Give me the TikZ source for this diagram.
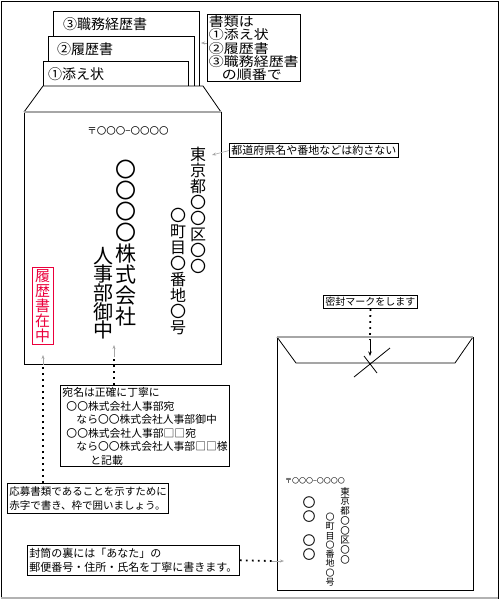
\documentclass[tikz,border=0pt]{standalone}
\usepackage{fontspec}
\setmainfont{Noto Sans CJK JP}
\newfontfamily\widejp[FakeStretch=1.15]{Noto Sans CJK JP}
\usetikzlibrary{arrows.meta}
\definecolor{inkred}{RGB}{235,0,60}
\newcommand{\maru}{〇}

\begin{document}
\begin{tikzpicture}[x=1pt, y=-1pt,
    note/.style={draw, line width=0.9pt, inner sep=2pt, anchor=north west, align=left, font=\fontsize{10.8}{13.5}\selectfont},
    tab/.style={draw, fill=white, line width=0.8pt},
    tabtext/.style={anchor=west, inner sep=0pt, font=\fontsize{14}{14}\selectfont},
    tate/.style={align=center, inner sep=0pt, anchor=north},
    guide/.style={gray!70, line width=0.6pt, -{Stealth[length=4pt, width=3pt]}},
    dots/.style={line width=1.8pt, dash pattern=on 1.8pt off 4.2pt},
    fold/.style={gray!70, line width=1.6pt}]
  \useasboundingbox (0,0) rectangle (500,600);
  \draw[line width=0.8pt] (1,1) rectangle (498,598);
  \draw[gray!60, line width=1.5pt] (1,598) -- (498,598);

  % papers in the envelope
  \draw[tab] (53,11) rectangle (199,86);
  \node[tabtext] (doc3) at (63,24) {③職務経歴書};
  \draw[tab] (48,36) rectangle (194,86);
  \node[tabtext] (doc2) at (57,49) {②履歴書};
  \draw[tab] (43,61) rectangle (188,86);
  \node[tabtext] (doc1) at (48,74) {①添え状};

  % front of the envelope
  \draw[fill=white, line width=0.8pt] (24,112) -- (43,86) -- (203,86) -- (221,112);
  \draw[line width=0.8pt] (24,112) rectangle (221,364);
  \draw[fold] (24,112) -- (221,112);
  \node[font=\fontsize{9.5}{10}\selectfont] (zip) at (128,131) {〒\maru\maru\maru−\maru\maru\maru\maru};
  \node[tate, font=\fontsize{16}{16}\selectfont] (addr1) at (198,147) {東\\京\\都\\\maru\\\maru\\区\\\maru\\\maru};
  \node[tate, font=\fontsize{16}{16}\selectfont] (addr2) at (178,208) {\maru\\町\\目\\\maru\\番\\地\\\maru\\号};
  \node[tate, font=\fontsize{21}{21}\selectfont] (corp) at (126,160) {\maru\\\maru\\\maru\\\maru\\株\\式\\会\\社};
  \node[tate, font=\fontsize{20}{18.6}\selectfont] (dept) at (103,247) {人\\事\\部\\御\\中};
  \node[tate, draw=inkred, text=inkred, inner xsep=3pt, inner ysep=2pt, font=\fontsize{15}{15}\selectfont] (inside) at (42.5,267) {履\\歴\\書\\在\\中};

  % back of the envelope
  \draw[line width=0.8pt] (277,337) rectangle (473,590);
  \draw[line width=0.8pt] (277,337) -- (296,363) -- (455,363) -- (473,337);
  \draw[fold] (277,337) -- (473,337);
  \draw[line width=0.8pt] (354,377) -- (390,348) (364,356) -- (377,373);
  \node[font=\fontsize{7}{7}\selectfont] (bzip) at (315,481) {〒\maru\maru\maru−\maru\maru\maru\maru};
  \node[tate, font=\fontsize{9.5}{9.75}\selectfont] (baddr1) at (345,487) {東\\京\\都\\\maru\\\maru\\区\\\maru\\\maru};
  \node[tate, font=\fontsize{9}{9.25}\selectfont] (baddr2) at (330,513) {\maru\\町\\目\\\maru\\番\\地\\\maru\\号};
  \node[tate, font=\fontsize{13}{14}\selectfont] (bname1) at (309,496) {\maru\\\maru};
  \node[tate, font=\fontsize{13}{14}\selectfont] (bname2) at (309,534) {\maru\\\maru};

  % notes
  \node[note, font=\widejp\fontsize{13}{11.8}\selectfont, inner sep=1.5pt] (order) at (207,14) {書類は\\①添え状\\②履歴書\\③職務経歴書\\\hspace{13pt}の順番で};
  \node[note, font=\fontsize{11}{13}\selectfont] (abbr) at (229,143) {都道府県名や番地などは約さない};
  \node[note] (honor) at (60,385) {宛名は正確に丁寧に\\\hspace{4pt}\maru\maru 株式会社人事部宛\\\hspace{14pt}なら\maru\maru 株式会社人事部御中\\\hspace{4pt}\maru\maru 株式会社人事部□□宛\\\hspace{14pt}なら\maru\maru 株式会社人事部□□様\\\hspace{28pt}と記載};
  \node[note, font=\fontsize{10.5}{14.5}\selectfont, inner ysep=3pt] (redink) at (7,483) {応募書類であることを示すために\\赤字で書き、枠で囲いましょう。};
  \node[note, font=\fontsize{10}{12}\selectfont] (seal) at (323,295) {密封マークをします};
  \node[note, font=\fontsize{11}{14.5}\selectfont, inner ysep=2.5pt] (back) at (27,545) {封筒の裏には「あなた」の\\郵便番号・住所・氏名を丁寧に書きます。};

  % connectors
  \coordinate (orderTip) at (201,43);
  \draw[guide] (order.west |- orderTip) -- (orderTip);
  \coordinate (abbrTip) at (212,155);
  \draw[guide] (abbr.west) -- (abbrTip);
  \coordinate (deptFoot) at (114,357);
  \coordinate (deptTip) at (114,345);
  \draw[dots] (honor.north -| deptFoot) -- (deptFoot);
  \draw[guide] (deptFoot) -- (deptTip);
  \coordinate (insideFoot) at (43,365);
  \coordinate (insideTip) at (43,355);
  \draw[dots] (redink.north -| insideFoot) -- (insideFoot);
  \draw[guide] (insideFoot) -- (insideTip);
  \coordinate (sealFoot) at (370,340);
  \coordinate (sealTip) at (370,356);
  \draw[dots] (seal.south) -- (sealFoot);
  \draw[line width=0.7pt, -{Stealth[length=4.5pt, width=3.5pt]}] (sealFoot) -- (sealTip);
  \coordinate (backFoot) at (272,561);
  \coordinate (backTip) at (284,561);
  \draw[dots] (back.east) -- (backFoot);
  \draw[guide] (backFoot) -- (backTip);
\end{tikzpicture}
\end{document}
